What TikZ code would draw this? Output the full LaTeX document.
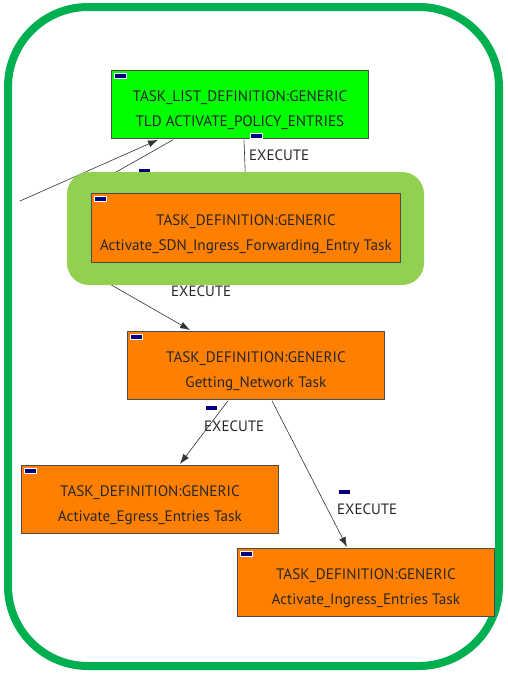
\documentclass[tikz,border=0pt]{standalone}
\usepackage{fontspec}
\setmainfont{PT Sans}
\usetikzlibrary{arrows.meta,calc}
\definecolor{frame}{HTML}{00B050}
\definecolor{lime}{HTML}{00FF00}
\definecolor{taskorange}{HTML}{FF8000}
\definecolor{glow}{HTML}{92D050}
\definecolor{tabblue}{HTML}{000080}
\begin{document}
\begin{tikzpicture}[x=1pt,y=-1pt,
  taskbox/.style={draw=black!70, line width=0.8pt, minimum width=257pt, minimum height=68pt,
    anchor=north west, inner sep=0pt},
  boxtext/.style={align=center, font=\fontsize{15.2}{25}\selectfont, text=black!85, inner sep=0pt},
  tab/.style={fill=tabblue, draw=white, line width=0.4pt, minimum width=12pt, minimum height=5pt,
    inner sep=0pt, anchor=north west},
  conn/.style={draw=black!80, line width=0.6pt},
  arr/.style={conn, -{Latex[length=10pt,width=7pt]}},
  edgelabel/.style={font=\fontsize{15}{16}\selectfont, text=black!85, inner sep=0pt, anchor=west}]
\useasboundingbox (0,0) rectangle (507,673);
% outer frame
\draw[frame, line width=8pt, rounded corners=80pt] (8,7) rectangle (499,666);

% task boxes
\node[taskbox, fill=lime] (tld) at (111,70) {};
\node[taskbox, fill=taskorange] (net) at (127,331) {};
\node[taskbox, fill=taskorange] (egr) at (21,465) {};
\node[taskbox, fill=taskorange] (ing) at (237,548) {};

% connectors
\coordinate (in1) at (20,201);
\coordinate (out1) at (95,184);
\coordinate (in2) at (80,267);
\draw[arr] (in1) -- ($(tld.south west)+(47,1)$);
\draw[conn] ($(tld.south west)+(62,1)$) -- (out1);
\draw[conn] ($(tld.south west)+(133,1)$) -- (246,193);
\draw[arr] (in2) -- ($(net.north west)+(63,-1)$);
\draw[arr] ($(net.south west)+(101,1)$) -- ($(egr.north west)+(159,-1)$);
\draw[arr] ($(net.south west)+(145,1)$) -- ($(ing.north west)+(110,-1)$);

% connector labels
\node[tab] (t1) at (250,133) {};
\node[edgelabel] (l1) at (249,155) {EXECUTE};
\node[tab] (t2) at (138,168) {};
\node[edgelabel] (l2) at (171,291) {EXECUTE};
\node[tab] (t3) at (205,405) {};
\node[edgelabel] (l3) at (204,426) {EXECUTE};
\node[tab] (t4) at (338,489) {};
\node[edgelabel] (l4) at (337,509) {EXECUTE};

% highlighted task
\fill[glow, rounded corners=22pt] (67,172) rectangle (424,285);
\node[taskbox, fill=taskorange, minimum width=309pt, minimum height=69pt] (sdn) at (91,193) {};

% box texts and tabs
\node[boxtext] (tldtxt) at ($(tld.center)+(0,6)$) {TASK\_LIST\_DEFINITION:GENERIC\\TLD ACTIVATE\_POLICY\_ENTRIES};
\node[boxtext] (sdntxt) at ($(sdn.center)+(0,6.5)$) {TASK\_DEFINITION:GENERIC\\Activate\_SDN\_Ingress\_Forwarding\_Entry Task};
\node[boxtext] (nettxt) at ($(net.center)+(0,6)$) {TASK\_DEFINITION:GENERIC\\Getting\_Network Task};
\node[boxtext] (egrtxt) at ($(egr.center)+(0,6)$) {TASK\_DEFINITION:GENERIC\\Activate\_Egress\_Entries Task};
\node[boxtext] (ingtxt) at ($(ing.center)+(0,6)$) {TASK\_DEFINITION:GENERIC\\Activate\_Ingress\_Entries Task};
\foreach \b in {tld,sdn,net,egr,ing}
  \node[tab] (\b tab) at ($(\b.north west)+(3,3)$) {};
\end{tikzpicture}
\end{document}
